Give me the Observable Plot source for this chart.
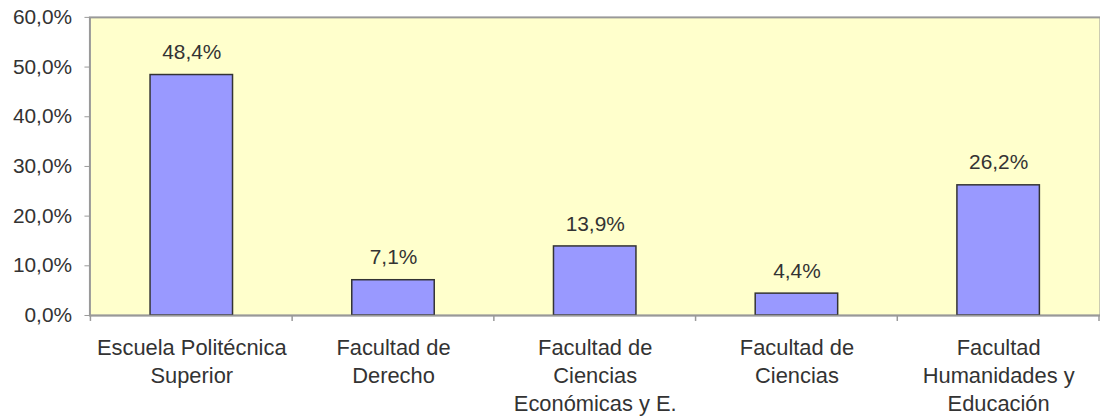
<!DOCTYPE html>
<html><head><meta charset="utf-8">
<script src="https://cdn.jsdelivr.net/npm/d3@7"></script>
<script src="https://cdn.jsdelivr.net/npm/@observablehq/plot@0.6"></script>
<style>html,body{margin:0;padding:0;background:#fff;overflow:hidden;width:1100px;height:420px}</style>
</head><body><div id="chart"></div>
<script>
const categories = ["Escuela Politécnica Superior","Facultad de Derecho","Facultad de Ciencias Económicas y E.","Facultad de Ciencias","Facultad Humanidades y Educación"];
const labelLines = ["Escuela Politécnica\nSuperior","Facultad de\nDerecho","Facultad de\nCiencias\nEconómicas y E.","Facultad de\nCiencias","Facultad\nHumanidades y\nEducación"];
const values = [48.4, 7.1, 13.9, 4.4, 26.2];
const yTicks = [0,10,20,30,40,50,60];

const data = categories.map((c,i)=>({cat:c, label:labelLines[i], v:values[i]}));
const fmt = v => v.toFixed(1).replace(".", ",") + "%";
const font = "Liberation Sans, Arial, sans-serif";

const plot = Plot.plot({
  width: 1107, height: 420,
  marginLeft: 90, marginRight: 0, marginTop: 17, marginBottom: 103,
  style: {fontFamily: font, fontSize: "21px", color: "#333", background: "transparent"},
  x: {domain: categories, paddingInner: 0.59, paddingOuter: 0.295, align: 0.5, label: null},
  y: {domain: [0, 60], label: null},
  marks: [
    Plot.frame({fill: "#FFFFCC", stroke: "#999", strokeWidth: 2}),
    Plot.axisY({ticks: yTicks, tickFormat: fmt, tickSize: 5, tickPadding: 13, stroke: "#999", fill: "#333", fontSize: 21, label: null}),
    Plot.axisX({tickSize: 0, tickPadding: 19, tickFormat: d => labelLines[categories.indexOf(d)], lineHeight: 1.3, fill: "#333", fontSize: 22, label: null}),
    Plot.barY(data, {x: "cat", y: "v", fill: "#9999FF", stroke: "#333", strokeWidth: 1.5}),
    Plot.ruleY([0], {stroke: "#999", strokeWidth: 1.5}),
    Plot.text(data, {x: "cat", y: "v", text: d => fmt(d.v), lineAnchor: "bottom", dy: -16, fill: "#333", fontSize: 21})
  ]
});
document.getElementById("chart").appendChild(plot);

// category boundary tick marks below the x axis, from the band scale
const xs = plot.scale("x");
const ys = plot.scale("y");
const svg = d3.select(plot);
const y0 = ys.apply(0);
const gap = (xs.step - xs.bandwidth) / 2;
const bounds = categories.map(c => xs.apply(c) - gap);
bounds.push(bounds[bounds.length - 1] + xs.step);
svg.append("g").selectAll("line").data(bounds).join("line")
  .attr("x1", d => d).attr("x2", d => d).attr("y1", y0).attr("y2", y0 + 6)
  .attr("stroke", "#999").attr("stroke-width", 1.5);
</script></body></html>
